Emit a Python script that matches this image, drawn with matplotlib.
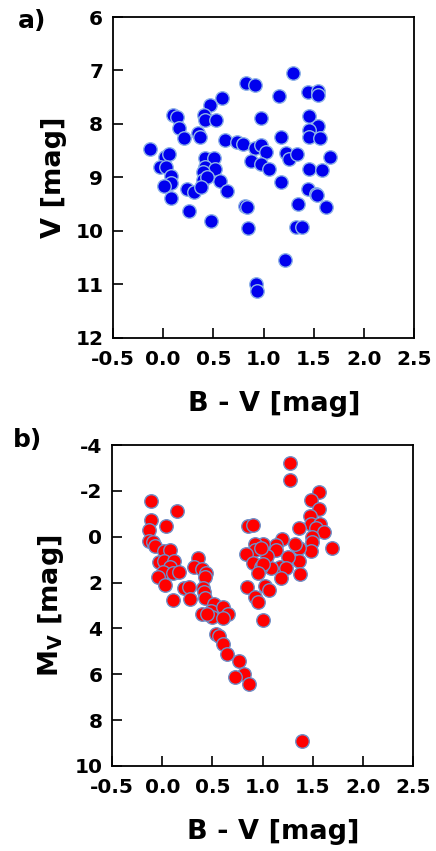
import numpy as np
import matplotlib
matplotlib.use("Agg")
import matplotlib.pyplot as plt

plt.rcParams['font.family'] = ['DejaVu Sans']
plt.rcParams['font.weight'] = 'bold'
plt.rcParams['axes.unicode_minus'] = False

# -------------------------------
# Data: panel a (apparent magnitude)
# -------------------------------
bv_a = [-0.13, 1.29, 0.83, 0.91, 1.15, 1.44, 1.54, 1.54, 0.59, 0.47,
        0.10, 0.14, 0.41, 0.42, 0.53, 0.97, 1.45, 0.16, 0.21, 0.35,
        0.37, 0.62, 0.74, 0.80, 0.91, 0.97, 1.02, 1.17, 1.54, 1.45,
        1.45, 1.56, 1.22, 1.25, 1.33, 1.66, 0.02, 0.06, -0.03, 0.03,
        0.08, 0.42, 0.51, 0.42, 0.52, 0.40, 0.87, 0.97, 1.05, 1.45,
        1.58, 1.17, 0.57, 0.08, 0.005, 0.08, 0.24, 0.31, 0.26, 0.40,
        0.44, 0.38, 0.64, 0.48, 0.82, 0.84, 0.85, 1.44, 1.52, 1.53,
        1.34, 1.62, 1.32, 1.38, 1.21, 0.92, 0.93]
v_a = [8.47, 7.05, 7.23, 7.27, 7.48, 7.40, 7.38, 7.46, 7.52, 7.64,
       7.83, 7.87, 7.84, 7.93, 7.93, 7.89, 7.86, 8.07, 8.27, 8.17,
       8.25, 8.30, 8.33, 8.37, 8.45, 8.39, 8.52, 8.25, 8.04, 8.11,
       8.24, 8.26, 8.55, 8.65, 8.56, 8.62, 8.62, 8.56, 8.81, 8.81,
       8.98, 8.64, 8.63, 8.80, 8.84, 8.89, 8.70, 8.75, 8.84, 8.84,
       8.87, 9.08, 9.07, 9.11, 9.16, 9.39, 9.22, 9.27, 9.62, 9.05,
       8.99, 9.17, 9.25, 9.81, 9.53, 9.56, 9.95, 9.22, 9.31, 9.33,
       9.50, 9.55, 9.92, 9.92, 10.55, 10.99, 11.12]

# -------------------------------
# Data: panel b (absolute magnitude)
# -------------------------------
bv_b = [1.27, 1.27, 1.565, 1.48, 1.56, 1.47, 1.48, 1.57, 1.53, 1.61,
        1.36, 1.49, 1.49, 1.48, 1.69, 1.36, 1.32, 1.36, 1.37, 1.19,
        1.13, 1.13, 1.25, 1.17, 1.23, 1.18, 1.08, 1.04, 1.00, 0.92,
        0.92, 0.98, 0.85, 0.90, 0.83, 0.90, 0.98, 1.00, 0.95, 0.84,
        1.02, 1.06, 0.92, 0.95, 1.00, -0.11, 0.15, -0.11, 0.04, -0.13,
        -0.13, -0.09, -0.07, 0.02, 0.08, -0.03, 0.02, 0.12, 0.08, 0.01,
        0.11, 0.17, -0.04, 0.03, 0.11, 0.36, 0.32, 0.40, 0.44, 0.43,
        0.22, 0.27, 0.28, 0.41, 0.42, 0.43, 0.52, 0.49, 0.60, 0.65,
        0.40, 0.50, 0.60, 0.45, 0.54, 0.56, 0.60, 0.64, 0.76, 0.81,
        0.72, 0.86, 1.39]
mv_b = [-3.20, -2.48, -1.96, -1.61, -1.23, -0.91, -0.55, -0.55, -0.40, -0.22,
        -0.36, 0.03, 0.22, 0.61, 0.51, 0.51, 0.32, 1.04, 1.62, 0.10,
        0.36, 0.58, 0.87, 1.33, 1.38, 1.81, 1.38, 0.83, 0.32, 0.32,
        0.58, 0.47, -0.48, -0.52, 0.75, 1.16, 1.33, 1.19, 1.58, 2.20,
        2.17, 2.32, 2.64, 2.83, 3.65, -1.57, -1.13, -0.74, -0.48, -0.30,
        0.17, 0.22, 0.39, 0.61, 0.58, 1.12, 1.07, 1.07, 1.33, 1.55,
        1.60, 1.55, 1.77, 2.10, 2.75, 0.94, 1.33, 1.40, 1.60, 1.74,
        2.25, 2.20, 2.71, 2.25, 2.39, 2.68, 2.93, 3.22, 3.07, 3.39,
        3.39, 3.51, 3.54, 3.36, 4.23, 4.35, 4.67, 5.13, 5.43, 6.00,
        6.12, 6.43, 8.90]

xticks = [-0.5, 0.0, 0.5, 1.0, 1.5, 2.0, 2.5]
yticks_a = [6, 7, 8, 9, 10, 11, 12]
yticks_b = [-4, -2, 0, 2, 4, 6, 8, 10]

# -------------------------------
# Figure
# -------------------------------
fig = plt.figure(figsize=(4.36, 8.51), dpi=100)
ax_a = fig.add_axes([0.259, 0.603, 0.691, 0.377])
ax_b = fig.add_axes([0.257, 0.100, 0.691, 0.377])


def style(ax, yticks, ylim):
    ax.set_xlim(-0.5, 2.5)
    ax.set_ylim(*ylim)
    ax.set_xticks(xticks)
    ax.set_xticklabels([f"{t:.1f}" for t in xticks])
    ax.set_yticks(yticks)
    ax.tick_params(direction='in', length=7, width=1.2, labelsize=14.5,
                   top=False, right=False)
    ax.tick_params(axis='x', pad=9)
    ax.tick_params(axis='y', pad=7)
    for s in ax.spines.values():
        s.set_linewidth(1.3)
    for lab in ax.get_xticklabels() + ax.get_yticklabels():
        lab.set_fontweight('bold')
    ax.set_xlabel('B - V [mag]', fontsize=19.5, fontweight='bold')
    ax.xaxis.set_label_coords(0.535, -0.165)


ax_a.scatter(bv_a, v_a, s=95, c='#0000ee', edgecolors='#8fb4e8', linewidths=1.0, zorder=3)
style(ax_a, yticks_a, (12, 6))
ax_a.set_ylabel('V [mag]', fontsize=19.5, fontweight='bold', labelpad=6)

ax_b.scatter(bv_b, mv_b, s=95, c='#ff0000', edgecolors='#6f8fc8', linewidths=1.0, zorder=3)
style(ax_b, yticks_b, (10, -4))
ax_b.set_ylabel('M$_\\mathbf{V}$ [mag]', fontsize=19.5, fontweight='bold', labelpad=6)

fig.text(0.04, 0.975, 'a)', fontsize=18, fontweight='bold', va='center', ha='left')
fig.text(0.03, 0.483, 'b)', fontsize=18, fontweight='bold', va='center', ha='left')

plt.savefig("out.png", dpi=100)
